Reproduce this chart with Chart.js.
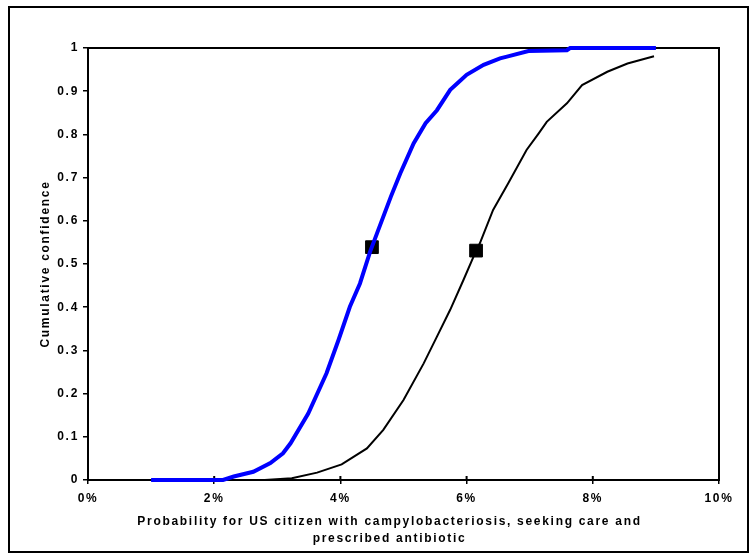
<!DOCTYPE html>
<html>
<head>
<meta charset="utf-8">
<script src="https://cdn.jsdelivr.net/npm/chart.js@4/dist/chart.umd.min.js"></script>
<style>
html,body{margin:0;padding:0;background:#fff;}
canvas{display:block;}
</style>
</head>
<body>
<canvas id="c" width="749" height="553"></canvas>
<script>
// Blue curve (percent, cumulative confidence)
const blueX = [1.0, 2.14, 2.31, 2.62, 2.89, 3.09, 3.21, 3.49, 3.78, 3.97, 4.15, 4.31, 4.47, 4.58, 4.80, 4.95, 5.16, 5.35, 5.53, 5.74, 5.85, 6.0, 6.27, 6.53, 6.64, 6.98, 7.59, 7.64, 9.0];
const blueY = [0, 0, 0.008, 0.019, 0.039, 0.062, 0.085, 0.154, 0.247, 0.324, 0.401, 0.455, 0.528, 0.571, 0.656, 0.710, 0.779, 0.826, 0.856, 0.903, 0.918, 0.938, 0.961, 0.976, 0.980, 0.993, 0.995, 1.0, 1.0];
// Black curve
const blackX = [2.80, 3.23, 3.63, 4.02, 4.42, 4.68, 5.0, 5.32, 5.53, 5.74, 5.95, 6.11, 6.21, 6.42, 6.66, 6.95, 7.14, 7.27, 7.59, 7.83, 8.23, 8.55, 8.97];
const blackY = [0, 0.004, 0.017, 0.036, 0.073, 0.116, 0.185, 0.27, 0.332, 0.394, 0.463, 0.517, 0.548, 0.625, 0.687, 0.764, 0.802, 0.829, 0.872, 0.914, 0.945, 0.964, 0.981];
// Square markers
const markerX = [4.50, 6.15];
const markerY = [0.539, 0.531];

const xTitle = ["Probability for US citizen with campylobacteriosis, seeking care and", "prescribed antibiotic"];
const yTitle = "Cumulative confidence";

const toPts = (xs, ys) => xs.map((x, i) => ({x: x, y: ys[i]}));

const FONT = "'Liberation Sans', Arial, sans-serif";
const SPACING = '1.7px';

const spacingPlugin = {
  id: 'spacing',
  beforeUpdate(chart) { chart.ctx.letterSpacing = SPACING; },
  beforeLayout(chart) { chart.ctx.letterSpacing = SPACING; },
  beforeDraw(chart) { chart.ctx.letterSpacing = SPACING; }
};

const framePlugin = {
  id: 'frame',
  beforeDatasetsDraw(chart) {
    const {ctx, chartArea: a} = chart;
    ctx.save();
    ctx.strokeStyle = '#000';
    ctx.lineWidth = 2;
    ctx.strokeRect(a.left, a.top, a.right - a.left, a.bottom - a.top);
    const xs = chart.scales.x;
    ctx.beginPath();
    xs.ticks.forEach(t => {
      const px = xs.getPixelForValue(t.value);
      ctx.moveTo(px, a.bottom);
      ctx.lineTo(px, a.bottom - 4);
    });
    ctx.stroke();
    ctx.restore();
  },
  afterDraw(chart) {
    const {ctx, chartArea: a} = chart;
    ctx.save();
    ctx.strokeStyle = '#000';
    ctx.lineWidth = 2;
    ctx.strokeRect(9, 7, 739, 545);
    // x-axis title (centred slightly left of plot centre, as in the original)
    ctx.letterSpacing = SPACING;
    ctx.fillStyle = '#000';
    ctx.font = "bold 12px " + FONT;
    ctx.textAlign = 'center';
    ctx.textBaseline = 'middle';
    const cx = (a.left + a.right) / 2 - 14;
    xTitle.forEach((line, i) => ctx.fillText(line, cx, a.bottom + 42 + i * 16.5));
    ctx.restore();
  }
};

new Chart(document.getElementById('c'), {
  type: 'scatter',
  data: {
    datasets: [
      {
        data: toPts(blueX, blueY),
        showLine: true,
        borderColor: '#0000FF',
        borderWidth: 4,
        pointRadius: 0,
        tension: 0,
        clip: false
      },
      {
        data: toPts(blackX, blackY),
        showLine: true,
        borderColor: '#000000',
        borderWidth: 2,
        pointRadius: 0,
        tension: 0,
        clip: false
      },
      {
        data: toPts(markerX, markerY),
        showLine: false,
        pointStyle: 'rect',
        pointRadius: 9,
        pointBackgroundColor: '#000',
        pointBorderColor: '#000',
        pointBorderWidth: 1,
        clip: false
      }
    ]
  },
  options: {
    responsive: false,
    animation: false,
    events: [],
    plugins: {legend: {display: false}, tooltip: {enabled: false}},
    layout: {padding: {left: 0, top: 48, right: 30, bottom: 0}},
    scales: {
      x: {
        type: 'linear',
        min: 0, max: 10,
        afterFit(s) { s.height = 73; },
        border: {display: true, color: '#000', width: 2},
        grid: {display: true, drawOnChartArea: false, color: '#000', lineWidth: 1.5, tickLength: 4},
        ticks: {
          stepSize: 2,
          padding: 7,
          color: '#000',
          font: {family: FONT, size: 12, weight: 'bold'},
          callback: v => v + '%'
        },
        title: {display: false}
      },
      y: {
        type: 'linear',
        min: 0, max: 1,
        afterFit(s) { s.width = 88; },
        border: {display: true, color: '#000', width: 2},
        grid: {display: true, drawOnChartArea: false, color: '#000', lineWidth: 1.5, tickLength: 5},
        ticks: {
          stepSize: 0.1,
          padding: 4,
          color: '#000',
          font: {family: FONT, size: 12, weight: 'bold'},
          callback: v => String(parseFloat(v.toFixed(2)))
        },
        title: {
          display: true,
          text: yTitle,
          color: '#000',
          font: {family: FONT, size: 12, weight: 'bold', lineHeight: 1.2},
          padding: {top: 38, bottom: 0}
        }
      }
    }
  },
  plugins: [spacingPlugin, framePlugin]
});
</script>
</body>
</html>
